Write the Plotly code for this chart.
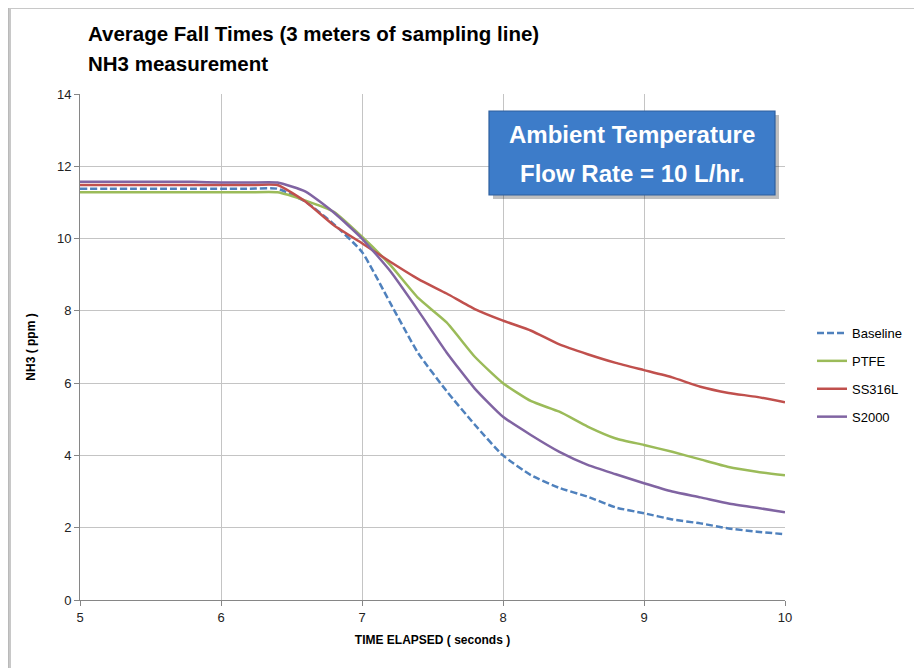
import plotly.graph_objects as go

time_s = [5.0, 5.2, 5.4, 5.6, 5.8, 6.0, 6.2, 6.4, 6.6, 6.8, 7.0, 7.2, 7.4, 7.6, 7.8,
          8.0, 8.2, 8.4, 8.6, 8.8, 9.0, 9.2, 9.4, 9.6, 9.8, 10.0]

baseline = [11.38, 11.38, 11.38, 11.38, 11.38, 11.38, 11.38, 11.38, 11.02, 10.40, 9.63, 8.22, 6.82, 5.78, 4.85,
            4.00, 3.45, 3.10, 2.86, 2.56, 2.40, 2.23, 2.12, 1.98, 1.89, 1.82]
ptfe = [11.28, 11.28, 11.28, 11.28, 11.28, 11.28, 11.28, 11.28, 11.05, 10.74, 10.05, 9.27, 8.35, 7.68, 6.73,
        6.00, 5.50, 5.21, 4.80, 4.47, 4.29, 4.10, 3.89, 3.68, 3.55, 3.45]
ss316l = [11.48, 11.48, 11.48, 11.48, 11.48, 11.48, 11.48, 11.48, 11.02, 10.37, 9.87, 9.36, 8.88, 8.48, 8.05,
          7.73, 7.45, 7.07, 6.80, 6.56, 6.36, 6.16, 5.90, 5.73, 5.62, 5.47]
s2000 = [11.57, 11.57, 11.57, 11.57, 11.57, 11.55, 11.55, 11.55, 11.30, 10.72, 10.00, 9.10, 8.00, 6.85, 5.85,
         5.07, 4.56, 4.10, 3.74, 3.48, 3.23, 3.00, 2.84, 2.67, 2.55, 2.43]

series_names = ["Baseline", "PTFE", "SS316L", "S2000"]
series_values = [baseline, ptfe, ss316l, s2000]
series_colors = ["#4F81BD", "#9BBB59", "#C0504D", "#8064A2"]
series_dash = ["7px,3px", "solid", "solid", "solid"]

x_ticks = [5, 6, 7, 8, 9, 10]
y_ticks = [0, 2, 4, 6, 8, 10, 12, 14]

title_line1 = "Average Fall Times (3 meters of sampling line)"
title_line2 = "NH3 measurement"
box_line1 = "Ambient Temperature"
box_line2 = "Flow Rate = 10 L/hr."

FONT = "Liberation Sans"

fig = go.Figure()
for name, vals, col, dash in zip(series_names, series_values, series_colors, series_dash):
    fig.add_trace(go.Scatter(
        x=time_s, y=vals, mode="lines", name=name, legendgroup=name,
        line=dict(color=col, width=2.5, dash=dash, shape="spline", smoothing=0.5),
    ))

# page body offset of 8px in the browser
OFF = 8
W, H = 922, 668
L, T = 72, 86
pw, ph = 705, 506
R = W - L - pw
B = H - T - ph


def px(x):
    # screenshot pixel x -> paper coordinate
    return (x - OFF - L) / pw


def py(y):
    # screenshot pixel y -> paper coordinate
    return (T + ph - (y - OFF)) / ph


shapes = [
    dict(type="rect", xref="paper", yref="paper", x0=px(10), x1=px(921), y0=py(720), y1=py(8),
         line=dict(color="#C8C8C8", width=2), fillcolor="rgba(0,0,0,0)", layer="below"),
    dict(type="rect", xref="paper", yref="paper", x0=px(8), x1=px(919), y0=py(720), y1=py(6),
         line=dict(color="#8A8A8A", width=1.2), fillcolor="rgba(0,0,0,0)", layer="below"),
    dict(type="rect", xref="paper", yref="paper", x0=px(493), x1=px(779), y0=py(199), y1=py(115),
         line=dict(width=0), fillcolor="rgba(0,0,0,0.25)", layer="above"),
    dict(type="rect", xref="paper", yref="paper", x0=px(489), x1=px(775), y0=py(195), y1=py(111),
         line=dict(color="#2E5F9E", width=1.2), fillcolor="#3D7CC9", layer="above"),
]

annotations = [
    dict(text="<b>" + title_line1 + "</b>", xref="paper", yref="paper", x=px(86), y=py(33),
         xanchor="left", yanchor="middle", showarrow=False, font=dict(family=FONT, size=20.5, color="#000000")),
    dict(text="<b>" + title_line2 + "</b>", xref="paper", yref="paper", x=px(86), y=py(64),
         xanchor="left", yanchor="middle", showarrow=False, font=dict(family=FONT, size=20.5, color="#000000")),
    dict(text="<b>" + box_line1 + "</b>", xref="paper", yref="paper", x=px(632), y=py(134),
         xanchor="center", yanchor="middle", showarrow=False, font=dict(family=FONT, size=24, color="#FFFFFF")),
    dict(text="<b>" + box_line2 + "</b>", xref="paper", yref="paper", x=px(632), y=py(173),
         xanchor="center", yanchor="middle", showarrow=False, font=dict(family=FONT, size=24, color="#FFFFFF")),
]

fig.update_layout(
    width=W, height=H,
    margin=dict(l=L, r=R, t=T, b=B, pad=0),
    paper_bgcolor="#FFFFFF", plot_bgcolor="#FFFFFF",
    font=dict(family=FONT, size=12, color="#000000"),
    shapes=shapes, annotations=annotations,
    showlegend=True,
    legend=dict(x=px(812), y=py(318), xanchor="left", yanchor="top",
                traceorder="grouped", tracegroupgap=8,
                font=dict(family=FONT, size=13, color="#000000"),
                bgcolor="rgba(0,0,0,0)", itemwidth=30),
    xaxis=dict(range=[5, 10], tickvals=x_ticks, ticktext=[str(v) for v in x_ticks],
               showgrid=True, gridcolor="#C4C4C4", gridwidth=1,
               showline=True, linecolor="#868686", linewidth=1,
               ticks="outside", ticklen=5, tickcolor="#868686",
               tickfont=dict(family=FONT, size=13, color="#222222"), zeroline=False,
               title=dict(text="<b>TIME ELAPSED ( seconds )</b>", standoff=12,
                          font=dict(family=FONT, size=12, color="#000000"))),
    yaxis=dict(range=[0, 14], tickvals=y_ticks, ticktext=[str(v) for v in y_ticks],
               showgrid=True, gridcolor="#C4C4C4", gridwidth=1,
               showline=True, linecolor="#868686", linewidth=1,
               ticks="outside", ticklen=5, tickcolor="#868686",
               tickfont=dict(family=FONT, size=13, color="#222222"), zeroline=False,
               title=dict(text="<b>NH3 ( ppm )</b>", standoff=18,
                          font=dict(family=FONT, size=12, color="#000000"))),
)

fig.write_html("out.html")
